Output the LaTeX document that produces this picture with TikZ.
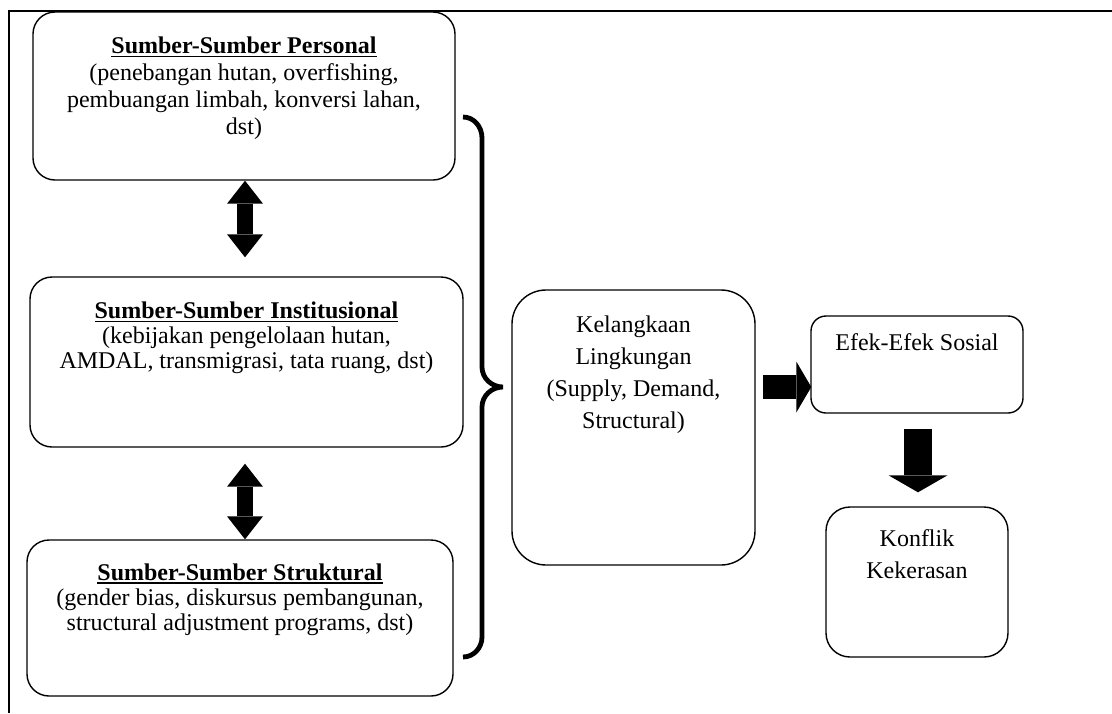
\documentclass[tikz,border=0pt]{standalone}
\usepackage{fontspec}
\setmainfont{Liberation Serif}
\usetikzlibrary{arrows.meta,calc}
\newcommand{\ulbf}[1]{\setbox0=\hbox{\textbf{#1}}\leavevmode\rlap{\rule[-3.6pt]{\wd0}{1.6pt}}\box0}
\begin{document}
\begin{tikzpicture}[x=1pt,y=-1pt,
  box/.style={draw, line width=1.4pt, inner sep=0pt, rounded corners=#1},
  box/.default=22pt,
  txt/.style={align=center, inner sep=0pt, anchor=north, font=\fontsize{24}{25}\selectfont},
  txttall/.style={align=center, inner sep=0pt, anchor=north, font=\fontsize{24}{27}\selectfont},
  txtwide/.style={align=center, inner sep=0pt, anchor=north, font=\fontsize{24}{32}\selectfont},
  frame/.style={line width=1.6pt},
  bracestyle/.style={line width=4.8pt},
  dbl/.style={line width=16pt, {Triangle[width=36pt,length=23pt,line width=0pt]}-{Triangle[width=36pt,length=23pt,line width=0pt]}},
  harr/.style={line width=24pt, -{Triangle[width=51pt,length=15pt,line width=0pt]}},
  varr/.style={line width=28pt, -{Triangle[width=59pt,length=17pt,line width=0pt]}}
]
\useasboundingbox (0,0) rectangle (1112,713);
% outer frame
\draw[frame] (9,713) -- (9,11) -- (1112,11);

% boxes
\node[box, minimum width=422pt, minimum height=168pt] (p) at (244,96) {};
\node[box, minimum width=433pt, minimum height=170pt] (i) at (246.5,362) {};
\node[box, minimum width=426pt, minimum height=156pt] (s) at (240,618) {};
\node[box=34pt, minimum width=243pt, minimum height=275pt] (k) at (633.5,427.5) {};
\node[box=15pt, minimum width=212pt, minimum height=97pt] (e) at (917,364.5) {};
\node[box=24pt, minimum width=182pt, minimum height=150pt] (c) at (917,582) {};

% texts
\node[txttall] (pt) at ([yshift=-25.5pt]p.north) {\ulbf{Sumber-Sumber Personal}\\(penebangan hutan, overfishing,\\pembuangan limbah, konversi lahan,\\dst)};
\node[txt] (it) at ([yshift=-25.5pt]i.north) {\ulbf{Sumber-Sumber Institusional}\\(kebijakan pengelolaan hutan,\\AMDAL, transmigrasi, tata ruang, dst)};
\node[txt] (st) at ([yshift=-24.2pt]s.north) {\ulbf{Sumber-Sumber Struktural}\\(gender bias, diskursus pembangunan,\\structural adjustment programs, dst)};
\node[txtwide] (kt) at ([yshift=-26.6pt]k.north) {Kelangkaan\\Lingkungan\\(Supply, Demand,\\Structural)};
\node[txtwide] (et) at ([yshift=-17.6pt]e.north) {Efek-Efek Sosial};
\node[txtwide] (ct) at ([yshift=-22.6pt]c.north) {Konflik\\Kekerasan};

% double arrows
\draw[dbl, shorten >=19pt] ([xshift=1pt]p.south) -- ([xshift=-1.5pt]i.north);
\draw[dbl, shorten <=16pt] ([xshift=-1.5pt]i.south) -- ([xshift=5pt]s.north);

% brace
\draw[bracestyle] (463,117) to[out=0,in=90] (482,138) -- (482,367)
  to[out=-90,in=180] (503,387) to[out=180,in=90] (482,407) -- (482,637)
  to[out=-90,in=0] (463,657);

% right arrow and down arrow
\draw[harr] ([shift={(7,-40.5)}]k.east) -- ([shift={(1,22.5)}]e.west);
\draw[varr, shorten <=15pt, shorten >=14pt] ([xshift=1pt]e.south) -- ([xshift=1pt]c.north);
\end{tikzpicture}
\end{document}
